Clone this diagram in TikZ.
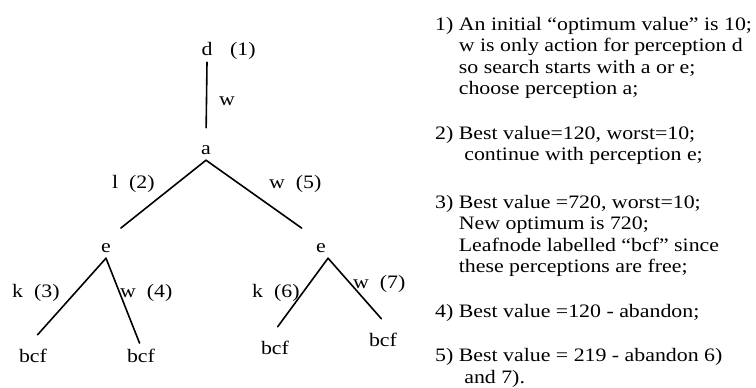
\documentclass[tikz,border=0pt]{standalone}
\usepackage{fontspec}
\setmainfont{Liberation Serif}[FakeStretch=1.15]
\usetikzlibrary{positioning}

\begin{document}
\begin{tikzpicture}[x=1pt, y=-1pt,
  font=\fontsize{19}{21.5}\selectfont,
  tnode/.style={anchor=base, inner sep=2pt, text height=13pt, text depth=4pt},
  lbl/.style={anchor=base west, inner sep=0pt},
  note/.style={anchor=base west, align=left, inner sep=0pt},
  branch/.style={line width=1.6pt, line cap=round}
]
  \useasboundingbox (0,0) rectangle (756,388);

  % search tree
  \node[tnode] (d) at (207,56) {d};
  \node[lbl] (d1) at (230,56) {(1)};
  \node[tnode] (a) at (206,154) {a};
  \node[tnode] (e1) at (106,252) {e};
  \node[tnode] (e2) at (321,252) {e};
  \node[tnode] (b1) at (33,362) {bcf};
  \node[tnode] (b2) at (141,362) {bcf};
  \node[tnode] (b3) at (275,354) {bcf};
  \node[tnode] (b4) at (383,346) {bcf};

  \draw[branch, shorten >=11pt] (d.south) -- (a.north);
  \draw[branch, shorten >=14pt] (a.south) -- (e1.70);
  \draw[branch, shorten >=15pt] (a.south) -- (e2.north west);
  \draw[branch, shorten >=16pt] (e1.south) -- (b1.120);
  \draw[branch, shorten >=4pt] (e1.south) -- (b2.north);
  \draw[branch, shorten >=15pt] (e2.south east) -- (b3.120);
  \draw[branch, shorten >=16pt] (e2.south east) -- (b4.50);

  \node[lbl] (la) at (219,105) {w};
  \node[lbl] (l2) at (112,188) {l~~(2)};
  \node[lbl] (l5) at (269,188) {w~~(5)};
  \node[lbl] (l3) at (12,297) {k~~(3)};
  \node[lbl] (l4) at (120,297) {w~~(4)};
  \node[lbl] (l6) at (252,297) {k~~(6)};
  \node[lbl] (l7) at (353,288) {w~~(7)};

  % steps of the search (base = last line)
  \node[note] (s1) at (435,94.5) {1) An initial ``optimum value'' is 10;\\
    \hphantom{1)~}w is only action for perception d\\
    \hphantom{1)~}so search starts with a or e;\\
    \hphantom{1)~}choose perception a;};
  \node[note] (s2) at (435,160.5) {2) Best value=120, worst=10;\\
    \hphantom{2)~~}continue with perception e;};
  \node[note] (s3) at (435,272.5) {3) Best value =720, worst=10;\\
    \hphantom{3)~}New optimum is 720;\\
    \hphantom{3)~}Leafnode labelled ``bcf'' since\\
    \hphantom{3)~}these perceptions are free;};
  \node[note] (s4) at (435,317) {4) Best value =120 - abandon;};
  \node[note] (s5) at (435,383) {5) Best value = 219 - abandon 6)\\
    \hphantom{5)~~}and 7).};
\end{tikzpicture}
\end{document}
